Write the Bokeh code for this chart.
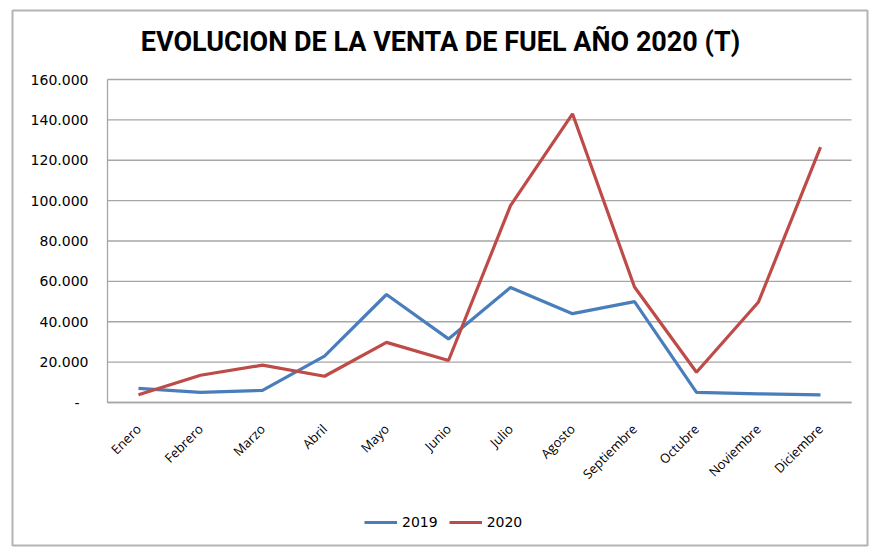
from math import pi
from bokeh.plotting import figure
from bokeh.models import Range1d, FixedTicker, Legend, LegendItem, Label
from bokeh.embed import file_html
from bokeh.resources import INLINE

months = ["Enero", "Febrero", "Marzo", "Abril", "Mayo", "Junio", "Julio",
          "Agosto", "Septiembre", "Octubre", "Noviembre", "Diciembre"]
v2019 = [7000, 5000, 6000, 23000, 53500, 31500, 57000, 44000, 50000, 5000, 4300, 3800]
v2020 = [3800, 13500, 18500, 13000, 29800, 20800, 97500, 143000, 57200, 15000, 49800, 126500]
y_ticks = [0, 20000, 40000, 60000, 80000, 100000, 120000, 140000, 160000]
y_labels = ["-\u00a0\u00a0", "20.000", "40.000", "60.000", "80.000",
            "100.000", "120.000", "140.000", "160.000"]
title_text = "EVOLUCION DE LA VENTA DE FUEL AÑO 2020 (T)"

GRAY = "#a6a6a6"
x = list(range(len(months)))
x_lo, x_hi = -0.5, len(months) - 0.5

# the frame spans the whole chart box so that its outline is the chart border
p = figure(x_range=Range1d(-2.032, 11.758), y_range=Range1d(-70836, 194180),
           width=870, height=548, output_backend="svg", toolbar_location=None,
           min_border_left=12, min_border_right=3, min_border_top=10,
           min_border_bottom=3)
p.title.visible = False
p.outline_line_color = "#b4b4b4"
p.outline_line_width = 2
p.xgrid.grid_line_color = None
p.ygrid.grid_line_color = None

# horizontal gridlines limited to the plot area
p.segment(x0=[x_lo] * len(y_ticks), x1=[x_hi] * len(y_ticks), y0=y_ticks, y1=y_ticks,
          line_color=GRAY, line_width=1.3)

p.yaxis.fixed_location = x_lo
p.yaxis.bounds = (y_ticks[0], y_ticks[-1])
p.yaxis.ticker = FixedTicker(ticks=y_ticks)
p.yaxis.major_label_overrides = {t: l for t, l in zip(y_ticks, y_labels)}
p.yaxis.major_label_text_font = "DejaVu Sans"
p.yaxis.major_label_text_font_size = "14px"
p.yaxis.major_label_text_color = "#000000"
p.yaxis.major_label_standoff = 13
p.yaxis.major_tick_line_color = None
p.yaxis.minor_tick_line_color = None
p.yaxis.axis_line_color = GRAY
p.yaxis.axis_line_width = 1.3

p.xaxis.fixed_location = 0
p.xaxis.bounds = (x_lo, x_hi)
p.xaxis.ticker = FixedTicker(ticks=x)
p.xaxis.major_label_overrides = {i: m for i, m in zip(x, months)}
p.xaxis.major_label_orientation = pi / 4
p.xaxis.major_label_text_font = "Open Sans"
p.xaxis.major_label_text_font_size = "13px"
p.xaxis.major_label_text_color = "#000000"
p.xaxis.major_label_standoff = 18
p.xaxis.major_tick_line_color = None
p.xaxis.minor_tick_line_color = None
p.xaxis.axis_line_color = GRAY
p.xaxis.axis_line_width = 1.3

r1 = p.line(x, v2019, line_color="#4a7ebb", line_width=3.2)
r2 = p.line(x, v2020, line_color="#be4b48", line_width=3.2)

p.add_layout(Label(x=428, y=504, x_units="screen", y_units="screen", text=title_text,
                   text_font="Roboto", text_font_size="27px", text_font_style="bold",
                   text_color="#000000", text_align="center", text_baseline="middle"))

legend = Legend(items=[LegendItem(label="2019", renderers=[r1]),
                       LegendItem(label="2020", renderers=[r2])],
                orientation="horizontal", location=(352, 13),
                border_line_color=None, background_fill_alpha=0, padding=5,
                glyph_width=33, label_standoff=5, spacing=11,
                label_text_font="DejaVu Sans", label_text_font_size="14px",
                label_text_color="#000000")
p.add_layout(legend, "center")

open("out.html", "w").write(file_html(p, INLINE))
